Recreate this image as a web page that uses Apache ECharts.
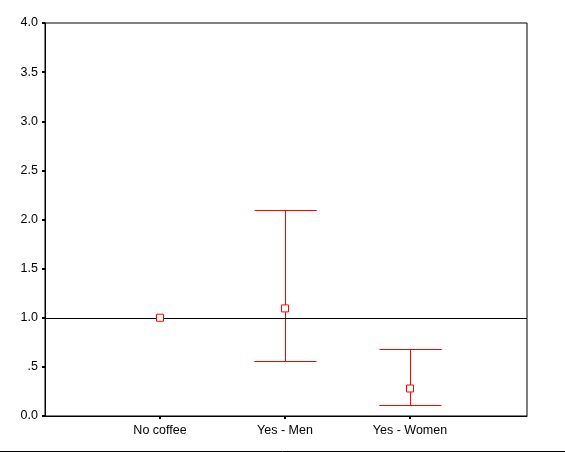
<!DOCTYPE html>
<html>
<head>
<meta charset="utf-8">
<script src="https://cdn.jsdelivr.net/npm/echarts@6/dist/echarts.min.js"></script>
<style>
html,body{margin:0;padding:0;background:#fff;}
#chart{width:565px;height:452px;}
</style>
</head>
<body>
<div id="chart"></div>
<script>
var categories = ['No coffee', 'Yes - Men', 'Yes - Women'];
var categoryPos = [1, 2, 3];
var estimate = [1.0, 1.095, 0.28];
var lowerCI = [1.0, 0.555, 0.108];
var upperCI = [1.0, 2.093, 0.678];
var yTicks = [0, 0.5, 1, 1.5, 2, 2.5, 3, 3.5, 4];
var yTickLabels = ['0.0', '.5', '1.0', '1.5', '2.0', '2.5', '3.0', '3.5', '4.0'];
var referenceValue = 1.0;

var chart = echarts.init(document.getElementById('chart'));
var font = 'Liberation Sans, Arial, sans-serif';
var RED = '#ff0000';

var ciData = categoryPos.map(function (p, i) { return [p, lowerCI[i], upperCI[i]]; });
var pointData = categoryPos.map(function (p, i) { return [p, estimate[i]]; });

function px(v) { return Math.round(v) + 0.5; }

chart.setOption({
  animation: false,
  backgroundColor: '#fff',
  grid: {
    left: 45, right: 38, top: 23, bottom: 36,
    show: true, borderColor: '#000', borderWidth: 1, backgroundColor: 'transparent'
  },
  xAxis: {
    type: 'value',
    min: 0.08, max: 3.936,
    splitLine: { show: false },
    axisLine: { show: true, lineStyle: { color: '#000', width: 1 } },
    axisTick: { show: true, customValues: categoryPos, length: 3, lineStyle: { color: '#000', width: 2 } },
    axisLabel: {
      customValues: categoryPos,
      formatter: function (v) { var i = categoryPos.indexOf(Math.round(v)); return i >= 0 ? categories[i] : ''; },
      color: '#000', fontFamily: font, fontSize: 12.5, margin: 8
    }
  },
  yAxis: {
    type: 'value',
    min: 0, max: 4, interval: 0.5,
    splitLine: { show: false },
    axisLine: { show: true, lineStyle: { color: '#000', width: 1 } },
    axisTick: { show: true, length: 3, lineStyle: { color: '#000', width: 2 } },
    axisLabel: {
      formatter: function (v) {
        var i = yTicks.indexOf(v);
        return i >= 0 ? yTickLabels[i] : '';
      },
      color: '#000', fontFamily: font, fontSize: 12.5, margin: 7
    }
  },
  series: [
    {
      type: 'custom',
      data: ciData,
      renderItem: function (params, api) {
        var x = api.value(0);
        var lo = api.coord([x, api.value(1)]);
        var hi = api.coord([x, api.value(2)]);
        var cx = px(lo[0]);
        var yl = px(lo[1]), yh = px(hi[1]);
        if (Math.abs(yh - yl) < 1) return null;
        var half = 31;
        return {
          type: 'polyline',
          shape: { points: [[cx - half, yh], [cx + half, yh], [cx, yh], [cx, yl], [cx - half, yl], [cx + half, yl]] },
          style: { stroke: RED, lineWidth: 1, fill: 'none' }
        };
      },
      z: 3
    },
    {
      type: 'line',
      data: [],
      markLine: {
        silent: true,
        symbol: 'none',
        label: { show: false },
        lineStyle: { color: '#000', width: 1, type: 'solid' },
        data: [{ yAxis: referenceValue }]
      },
      z: 2
    },
    {
      type: 'scatter',
      data: pointData,
      symbol: 'rect',
      symbolSize: 7,
      itemStyle: { color: '#fff', borderColor: RED, borderWidth: 1, opacity: 1 },
      z: 5
    }
  ],
  graphic: [
    { type: 'line', shape: { x1: 0, y1: 451.5, x2: 565, y2: 451.5 }, style: { stroke: '#000', lineWidth: 1 } }
  ]
});
</script>
</body>
</html>
